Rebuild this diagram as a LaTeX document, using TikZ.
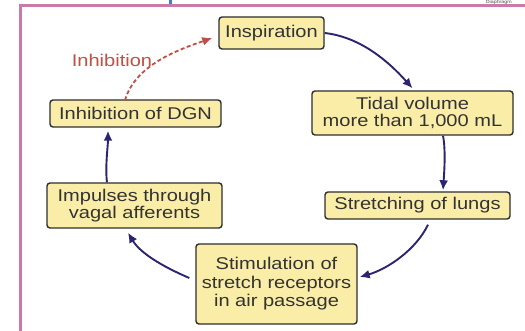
\documentclass[tikz,border=0pt]{standalone}
\usepackage{fontspec}
\setmainfont[FakeStretch=1.18]{Liberation Sans}
\usetikzlibrary{arrows.meta}
\definecolor{boxfill}{HTML}{FAEDA8}
\definecolor{boxline}{HTML}{2E2E2E}
\definecolor{txt}{HTML}{333333}
\definecolor{arrcol}{HTML}{2B2470}
\definecolor{redc}{HTML}{C24F45}
\definecolor{framec}{HTML}{C97AA8}
\definecolor{bluec}{HTML}{3B7FD0}
\tikzset{
  box/.style={draw=boxline, fill=boxfill, line width=1.4pt, rounded corners=3pt,
    inner sep=0pt, align=center, text=txt, font=\fontsize{17}{17.5}\selectfont},
  arr/.style={draw=arrcol, line width=1.9pt, -{Latex[length=10pt,width=9pt]}},
  inh/.style={draw=redc, line width=1.8pt, dash pattern=on 4pt off 2.5pt, -{Latex[length=10pt,width=9pt]}},
}
\begin{document}
\begin{tikzpicture}[x=1pt,y=-1pt]
\useasboundingbox (0,0) rectangle (525,331);
\clip (0,0) rectangle (525,331);
\fill[white] (0,0) rectangle (525,331);
% frame and cropped elements
\draw[framec, line width=3pt] (20.5,5.5) rectangle (540,345);
\fill[bluec] (169,-1) rectangle (172,4);
\node[anchor=north east, inner sep=0pt, font=\fontsize{4.5}{4.5}\selectfont, text=black!70] (diaph) at (512,0.2) {Diaphragm};
% boxes
\node[box, minimum width=105pt, minimum height=32pt] (insp) at (271.5,33) {Inspiration};
\node[box, minimum width=201pt, minimum height=44pt] (tidal) at (412.5,113) {Tidal volume\\more than 1,000 mL};
\node[box, minimum width=185pt, minimum height=27pt] (stretch) at (417.5,205.5) {Stretching of lungs};
\node[box, minimum width=161pt, minimum height=80pt, font=\fontsize{17}{18.5}\selectfont] (stim) at (276.5,284) {Stimulation of\\stretch receptors\\ in air passage};
\node[box, minimum width=175pt, minimum height=45pt] (imp) at (134.5,205.5) {Impulses through\\vagal afferents};
\node[box, minimum width=171pt, minimum height=27pt] (dgn) at (135.5,113.5) {Inhibition of DGN};
\node[text=redc, inner sep=0pt, font=\fontsize{17}{17.5}\selectfont] (lbl) at (112,60) {Inhibition};
% connectors
\draw[arr] (insp.east) .. controls +(35,4) and +(-25,-28) .. ([yshift=2pt]tidal.north);
\draw[arr] ([xshift=30.5pt]tidal.south) .. controls +(3,15) and +(1,-15) .. ([xshift=25.5pt,yshift=1pt]stretch.north);
\draw[arr] ([xshift=10.5pt,yshift=-5pt]stretch.south) .. controls +(-12,25) and +(28,-8) .. ([xshift=2pt,yshift=7pt]stim.east);
\draw[arr] ([xshift=-6pt,yshift=6pt]stim.west) .. controls +(-28,-12) and +(12,20) .. ([xshift=-6.5pt,yshift=-4pt]imp.south);
\draw[arr] ([xshift=-27.5pt]imp.north) .. controls +(-2,-15) and +(0,15) .. ([xshift=-27.5pt,yshift=-3pt]dgn.south);
\draw[inh] ([xshift=-10.5pt,yshift=-1pt]dgn.north) .. controls +(10,-35) and +(-35,12) .. ([xshift=-6pt,yshift=-5pt]insp.west);
\end{tikzpicture}
\end{document}
